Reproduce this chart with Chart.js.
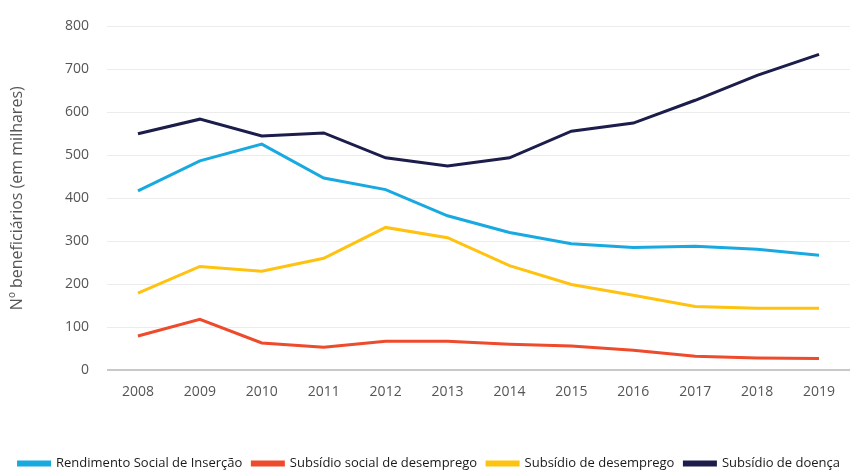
<!DOCTYPE html>
<html>
<head>
<meta charset="utf-8">
<script src="https://cdn.jsdelivr.net/npm/chart.js@4"></script>
<style>
  body { margin: 0; background: #fff; }
  #wrap { width: 851px; height: 470px; }
</style>
</head>
<body>
<div id="wrap"><canvas id="chart" width="851" height="470"></canvas></div>
<script>
const years = ['2008', '2009', '2010', '2011', '2012', '2013', '2014', '2015', '2016', '2017', '2018', '2019'];

const rsi = [417, 487, 526, 447, 420, 359, 320, 294, 285, 288, 281, 267];
const subsidioSocial = [79, 118, 63, 53, 67, 67, 60, 56, 46, 32, 28, 27];
const subsidioDesemprego = [179, 241, 230, 260, 332, 308, 243, 199, 174, 148, 144, 144];
const subsidioDoenca = [550, 584, 545, 552, 494, 475, 494, 556, 575, 628, 686, 735];

const seriesNames = ['Rendimento Social de Inserção', 'Subsídio social de desemprego', 'Subsídio de desemprego', 'Subsídio de doença'];
const seriesColors = ['#19a9e1', '#ee4a2c', '#fec20f', '#1c1d4b'];
const seriesData = [rsi, subsidioSocial, subsidioDesemprego, subsidioDoenca];

const yTicks = [0, 100, 200, 300, 400, 500, 600, 700, 800];

const datasets = seriesData.map((data, i) => ({
  label: seriesNames[i],
  data,
  borderColor: seriesColors[i],
  backgroundColor: seriesColors[i],
  borderWidth: 3,
  pointRadius: 0,
  tension: 0,
  fill: false
}));

const ctx = document.getElementById('chart').getContext('2d');
new Chart(ctx, {
  type: 'line',
  data: { labels: years, datasets },
  options: {
    responsive: false,
    animation: false,
    layout: { padding: { top: 24, right: 1, left: 0, bottom: -10 } },
    plugins: {
      legend: {
        display: true,
        position: 'bottom',
        align: 'end',
        labels: {
          boxWidth: 31,
          boxHeight: 3,
          padding: 10,
          color: '#1a1a1a',
          font: { family: "'Open Sans', sans-serif", size: 13 }
        }
      },
      tooltip: { enabled: false }
    },
    scales: {
      x: {
        offset: true,
        grid: { display: false, drawTicks: false },
        border: { display: false },
        ticks: { color: '#555', padding: 14, font: { family: "'Open Sans', sans-serif", size: 14 } },
        afterFit: (scale) => { scale.height = 77; }
      },
      y: {
        min: 0,
        max: 800,
        afterBuildTicks: (scale) => { scale.ticks = yTicks.map(v => ({ value: v })); },
        grid: {
          drawTicks: false,
          color: (c) => c.tick && c.tick.value === 0 ? '#c8c8c8' : '#ececec',
          lineWidth: (c) => c.tick && c.tick.value === 0 ? 2 : 1
        },
        border: { display: false },
        ticks: { color: '#555', padding: 18, font: { family: "'Open Sans', sans-serif", size: 14 } },
        title: {
          display: true,
          text: 'Nº beneficiários (em milhares)',
          color: '#555',
          padding: { top: 8, bottom: 0 },
          font: { family: "'Open Sans', sans-serif", size: 16 }
        },
        afterFit: (scale) => { scale.width = 107; }
      }
    }
  }
});
</script>
</body>
</html>
